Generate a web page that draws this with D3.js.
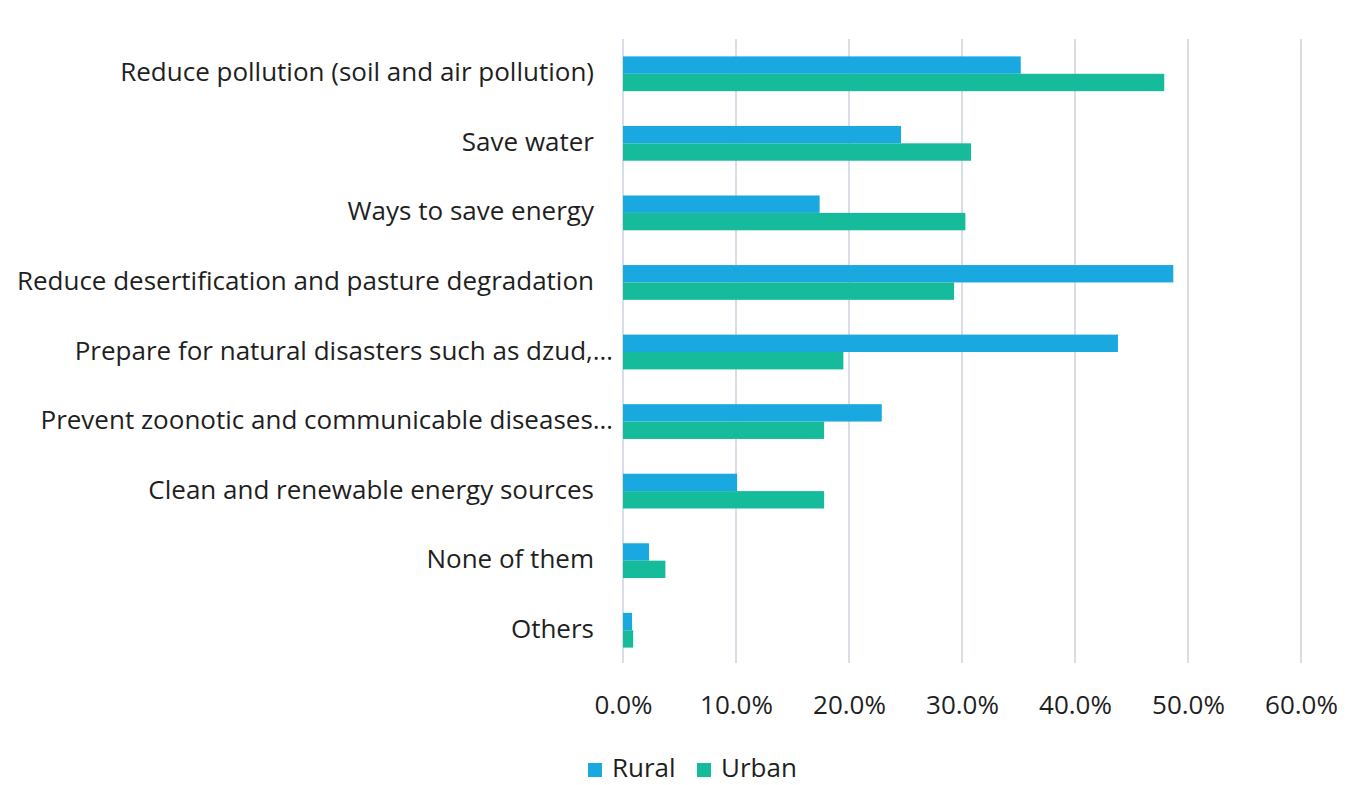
<!DOCTYPE html>
<html><head><meta charset="utf-8">
<script src="https://cdn.jsdelivr.net/npm/d3@7"></script>
<style>body{margin:0;background:#fff;} text{font-family:"Open Sans","Noto Sans",sans-serif;fill:#1f1f1f;}</style>
</head><body>
<svg id="c" width="1365" height="785"></svg>
<script>
const categories = [
  "Reduce pollution (soil and air pollution)",
  "Save water",
  "Ways to save energy",
  "Reduce desertification and pasture degradation",
  "Prepare for natural disasters such as dzud,…",
  "Prevent zoonotic and communicable diseases…",
  "Clean and renewable energy sources",
  "None of them",
  "Others"
];
const rural = [35.2, 24.6, 17.4, 48.7, 43.8, 22.9, 10.1, 2.3, 0.8];
const urban = [47.9, 30.8, 30.3, 29.3, 19.5, 17.8, 17.8, 3.75, 0.9];
const seriesNames = ["Rural", "Urban"];
const colors = ["#19A9E0", "#16BB9C"];
const tickValues = [0, 10, 20, 30, 40, 50, 60];

const svg = d3.select("#c");
const x = d3.scaleLinear().domain([0, 60]).range([623, 1301]);
const y = d3.scaleBand().domain(categories).range([39, 665]).paddingInner(0.5).paddingOuter(0.25);
const sub = d3.scaleBand().domain(seriesNames).range([0, y.bandwidth()]);

// gridlines
svg.append("g").selectAll("line").data(tickValues).join("line")
  .attr("x1", d => x(d)).attr("x2", d => x(d))
  .attr("y1", 39).attr("y2", 663)
  .attr("stroke", "#D9DDE6").attr("stroke-width", 2);

// bars
const series = [rural, urban];
series.forEach((vals, si) => {
  svg.append("g").selectAll("rect").data(categories).join("rect")
    .attr("x", x(0))
    .attr("y", (d) => y(d) + sub(seriesNames[si]))
    .attr("width", (d, i) => x(vals[i]) - x(0))
    .attr("height", sub.bandwidth())
    .attr("fill", colors[si]);
});

// category labels
svg.append("g").selectAll("text").data(categories).join("text")
  .attr("x", d => d.endsWith("…") ? 613 : 594)
  .attr("y", d => y(d) + y.bandwidth() / 2)
  .attr("dy", "0.29em")
  .attr("text-anchor", "end")
  .attr("font-size", 26)
  .text(d => d);

// x axis labels
const xAxis = d3.axisBottom(x).tickValues(tickValues).tickSize(0).tickPadding(0)
  .tickFormat(d => d3.format(".1f")(d) + "%");
const ga = svg.append("g").attr("transform", "translate(0,696)").call(xAxis);
ga.select(".domain").remove();
ga.selectAll("text").attr("font-size", 26).attr("fill", "#1f1f1f")
  .style("font-family", '"Open Sans","Noto Sans",sans-serif');

// legend
const leg = svg.append("g");
const legX = [588, 697];
seriesNames.forEach((n, i) => {
  leg.append("rect").attr("x", legX[i]).attr("y", 763).attr("width", 14).attr("height", 14).attr("fill", colors[i]);
  leg.append("text").attr("x", legX[i] + 24).attr("y", 777)
    .attr("font-size", 26).text(n);
});
</script>
</body></html>
